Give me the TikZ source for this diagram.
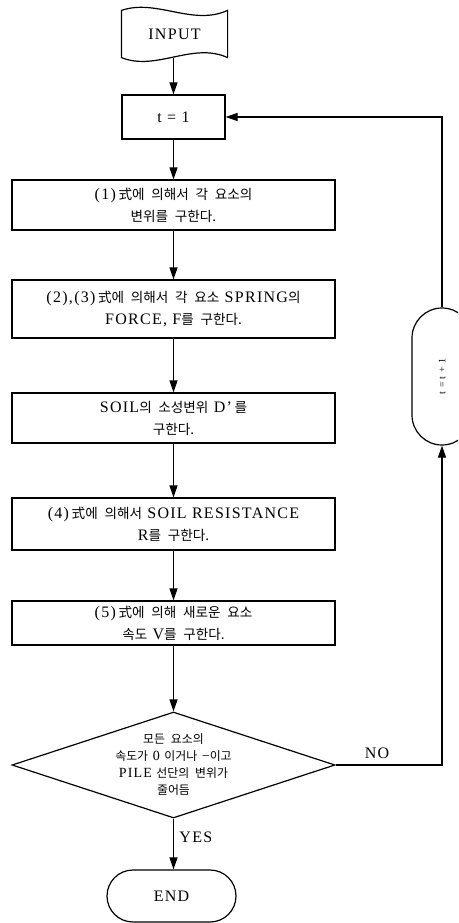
\documentclass[tikz,border=0pt]{standalone}
\usepackage{fontspec}
\setmainfont{Liberation Serif}[LetterSpace=8]
\newfontfamily\krfont{Noto Sans CJK KR}[Scale=0.85,WordSpace=2.2]
\newcommand\K[1]{{\krfont #1}}
\usetikzlibrary{arrows.meta,shapes.geometric}
\begin{document}
\begin{tikzpicture}[x=1pt,y=-1pt,line width=1.2pt,
  txt/.style={font=\fontsize{16}{22}\selectfont},
  box/.style={draw,minimum width=323pt,align=center,inner sep=0pt,txt},
  arr/.style={-{Triangle[length=12pt,width=8pt]}}]
\useasboundingbox (0,0) rectangle (458,923);
\clip (0,0) rectangle (458,923);
% INPUT (tape)
\node[minimum width=105pt,minimum height=46pt,inner sep=0pt,txt] (input) at (174.5,34) {INPUT};
\draw (input.north west) .. controls +(35,-12) and +(-35,16) .. (input.north east)
      -- (input.south east) .. controls +(-35,-16) and +(35,14) .. (input.south west) -- cycle;
% process boxes
\node[draw,minimum width=103pt,minimum height=44pt,txt] (t1) at (173.5,117) {t = 1};
\node[box,minimum height=50pt] (b1) at (173.5,205)
  {(1)\,\K{式에 의해서 각 요소의}\\\K{변위를 구한다.}};
\node[box,minimum height=58pt] (b2) at (173.5,309)
  {(2),(3)\,\K{式에 의해서 각 요소} SPRING\K{의}\\FORCE, F\K{를 구한다.}};
\node[box,minimum height=50pt] (b3) at (173.5,418)
  {SOIL\K{의 소성변위} D’\,\K{를}\\\K{구한다.}};
\node[box,minimum height=52pt] (b4) at (173.5,524)
  {(4)\,\K{式에 의해서} SOIL RESISTANCE\\R\K{를 구한다.}};
\node[box,minimum height=44pt] (b5) at (173.5,623)
  {(5)\,\K{式에 의해 새로운 요소}\\\K{속도} V\K{를 구한다.}};
% decision
\node[diamond,draw,minimum width=323pt,minimum height=106pt,inner sep=0pt] (dec) at (173.5,765) {};
\node[align=center,font=\fontsize{14}{17}\selectfont] (dect) at (dec)
  {\K{모든 요소의}\\\K{속도가} 0 \K{이거나} −\K{이고}\\PILE \K{선단의 변위가}\\\K{줄어듬}};
% end
\node[draw,rounded corners=26pt,minimum width=129pt,minimum height=52pt,txt] (end) at (171.5,896) {END};
% loop box
\node[draw,rounded corners=30pt,minimum width=60pt,minimum height=137pt] (loop) at (442,376.5) {};
\node[rotate=90,font=\fontsize{10}{12}\selectfont] (loopt) at (loop) {t = t + 1};
% connectors
\draw[arr] (t1.north |- input.south) -- (t1.north);
\draw[arr] (t1.south) -- (b1.north);
\draw[arr] (b1.south) -- (b2.north);
\draw[arr] (b2.south) -- (b3.north);
\draw[arr] (b3.south) -- (b4.north);
\draw[arr] (b4.south) -- (b5.north);
\draw[arr] (b5.south) -- (dec.north);
\draw[arr] (dec.south) -- node[right=2pt,pos=0.37,txt] (yes) {YES} (dec.south |- end.north);
\draw[arr] (dec.east) -- node[above=2pt,pos=0.39,txt] (no) {NO} (dec.east -| loop.south) -- (loop.south);
\draw[arr] (loop.north) |- (t1.east);
\end{tikzpicture}
\end{document}
